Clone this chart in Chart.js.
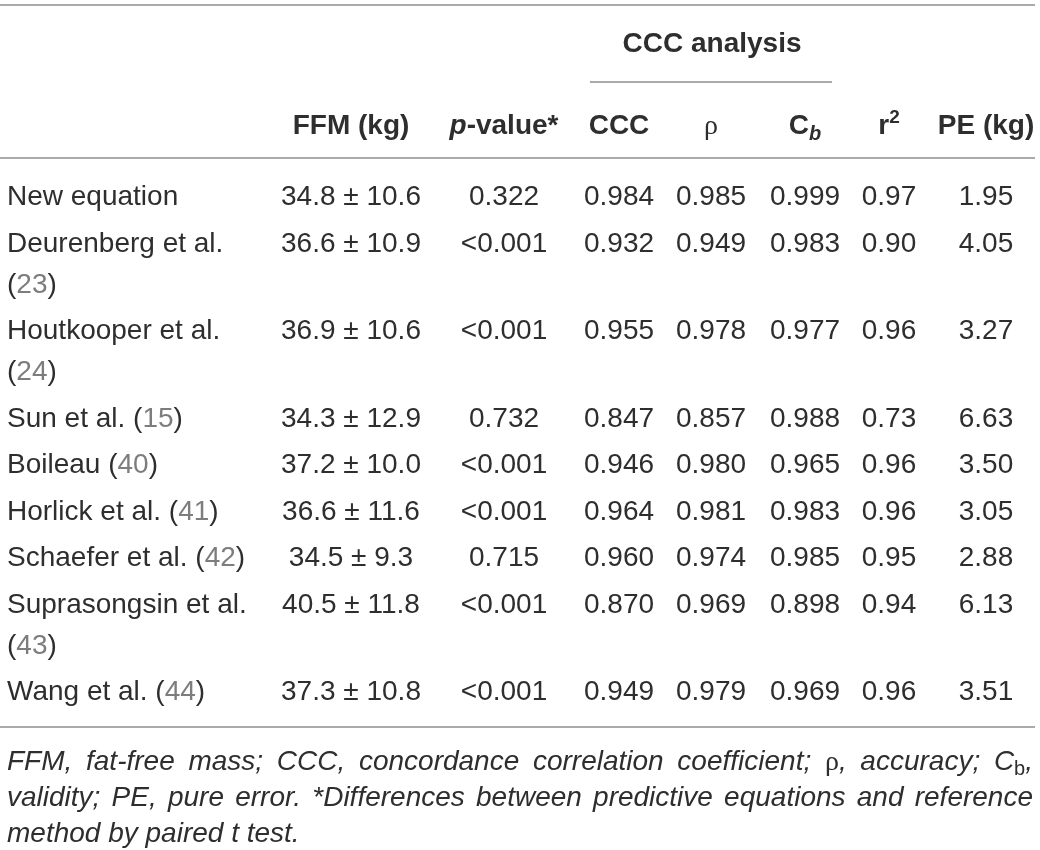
<!DOCTYPE html>
<html>
<head>
<meta charset="utf-8">
<script src="https://cdn.jsdelivr.net/npm/chart.js@4.4.1/dist/chart.umd.min.js"></script>
<style>
  html, body { margin: 0; padding: 0; background: #fff; }
  #wrap { width: 1040px; height: 850px; }
</style>
</head>
<body>
<div id="wrap"><canvas id="table" width="1040" height="850"></canvas></div>
<script>
// Table content
const methods = ['New equation', 'Deurenberg et al.', 'Houtkooper et al.', 'Sun et al.', 'Boileau',
                 'Horlick et al.', 'Schaefer et al.', 'Suprasongsin et al.', 'Wang et al.'];
const refs = ['', '23', '24', '15', '40', '41', '42', '43', '44'];
const ffm = ['34.8 ± 10.6', '36.6 ± 10.9', '36.9 ± 10.6', '34.3 ± 12.9', '37.2 ± 10.0',
             '36.6 ± 11.6', '34.5 ± 9.3', '40.5 ± 11.8', '37.3 ± 10.8'];
const pValues = ['0.322', '<0.001', '<0.001', '0.732', '<0.001', '<0.001', '0.715', '<0.001', '<0.001'];
const ccc = ['0.984', '0.932', '0.955', '0.847', '0.946', '0.964', '0.960', '0.870', '0.949'];
const rho = ['0.985', '0.949', '0.978', '0.857', '0.980', '0.981', '0.974', '0.969', '0.979'];
const cb = ['0.999', '0.983', '0.977', '0.988', '0.965', '0.983', '0.985', '0.898', '0.969'];
const r2 = ['0.97', '0.90', '0.96', '0.73', '0.96', '0.96', '0.95', '0.94', '0.96'];
const pe = ['1.95', '4.05', '3.27', '6.63', '3.50', '3.05', '2.88', '6.13', '3.51'];
const headers = ['', 'FFM (kg)', 'p-value*', 'CCC', 'ρ', 'C_b', 'r^2', 'PE (kg)'];
const groupHeader = 'CCC analysis';
const footnoteLines = [
    'FFM, fat-free mass; CCC, concordance correlation coefficient; ρ, accuracy; C_b,',
    'validity; PE, pure error. *Differences between predictive equations and reference',
    'method by paired t test.'
];

// Layout (table units = canvas px)
const COL_X = [7, 351, 504, 619, 711, 805, 889, 986];
const NAME_MAX_W = 250;
const RULE_L = 0, RULE_R = 1035;
const GROUP_L = 590, GROUP_R = 832;
const Y_TOP_RULE = 5, Y_GROUP = 52, Y_GROUP_RULE = 82, Y_HEAD = 134, Y_HEAD_RULE = 158;
const Y_FIRST_ROW = 205, ROW_PITCH = 46.5, WRAP_PITCH = 41;
const Y_BOTTOM_RULE = 727, Y_NOTE = 770, NOTE_PITCH = 36;
const NOTE_L = 7, NOTE_R = 1033;

const SANS = '"Liberation Sans", Arial, Helvetica, sans-serif';
const SERIF = '"Liberation Serif", "Times New Roman", serif';
const BODY = '28px ' + SANS;
const BOLD = 'bold 28px ' + SANS;
const NOTE = 'italic 28px ' + SANS;
const INK = '#2e2e2e';
const REF_INK = '#7d7d7d';
const RULE_INK = '#8e8e8e';

// Helpers for drawing mixed-font text
function runsWidth(ctx, runs) {
    let w = 0;
    runs.forEach(r => { ctx.font = r.font; w += ctx.measureText(r.t).width; });
    return w;
}

function drawRuns(ctx, runs, x, y, align) {
    const w = runsWidth(ctx, runs);
    let cx = align === 'center' ? x - w / 2 : x;
    runs.forEach(r => {
        ctx.font = r.font;
        ctx.fillStyle = r.color || INK;
        ctx.fillText(r.t, cx, y + (r.dy || 0));
        cx += ctx.measureText(r.t).width;
    });
}

function headerRuns(label) {
    if (label === 'ρ') return [{ t: 'ρ', font: '28px ' + SERIF }];
    if (label.includes('_')) {
        const [a, b] = label.split('_');
        return [{ t: a, font: BOLD }, { t: b, font: 'bold italic 20px ' + SANS, dy: 6 }];
    }
    if (label.includes('^')) {
        const [a, b] = label.split('^');
        return [{ t: a, font: BOLD }, { t: b, font: 'bold 19px ' + SANS, dy: -11 }];
    }
    if (label.startsWith('p-')) {
        return [{ t: 'p', font: 'bold italic 28px ' + SANS }, { t: label.slice(1), font: BOLD }];
    }
    return [{ t: label, font: BOLD }];
}

function noteWordRuns(word) {
    if (word.startsWith('ρ')) return [{ t: 'ρ', font: '28px ' + SERIF }, { t: word.slice(1), font: NOTE }];
    if (word.includes('_')) {
        const [a, rest] = word.split('_');
        return [{ t: a, font: NOTE }, { t: rest[0], font: '20px ' + SANS, dy: 5 }, { t: rest.slice(1), font: NOTE }];
    }
    return [{ t: word, font: NOTE }];
}

// Work out which method names wrap their reference onto a second line
const measureCtx = document.createElement('canvas').getContext('2d');
measureCtx.font = BODY;
const nameLines = methods.map((m, i) => {
    const nameRuns = [{ t: m, font: BODY }];
    if (!refs[i]) return [nameRuns];
    const refRuns = [{ t: '(', font: BODY }, { t: refs[i], font: BODY, color: REF_INK }, { t: ')', font: BODY }];
    const full = nameRuns.concat([{ t: ' ', font: BODY }], refRuns);
    return runsWidth(measureCtx, full) > NAME_MAX_W ? [nameRuns, refRuns] : [full];
});

// Baseline of the first line of every row
const rowY = [];
let yCursor = Y_FIRST_ROW;
nameLines.forEach(lines => {
    rowY.push(yCursor);
    yCursor += ROW_PITCH + (lines.length - 1) * WRAP_PITCH;
});

const columns = [methods, ffm, pValues, ccc, rho, cb, r2, pe];
const datasets = columns.map((col, c) => ({
    label: headers[c] || 'Method',
    data: col.map((v, i) => ({ x: COL_X[c], y: rowY[i] })),
    pointRadius: 0,
    pointHoverRadius: 0
}));

const tablePlugin = {
    id: 'tableText',
    afterDatasetsDraw(chart) {
        const ctx = chart.ctx;
        const xs = chart.scales.x, ys = chart.scales.y;
        const px = v => xs.getPixelForValue(v);
        const py = v => ys.getPixelForValue(v);
        ctx.save();
        ctx.textBaseline = 'alphabetic';

        // rules
        ctx.strokeStyle = RULE_INK;
        ctx.lineWidth = 1.6;
        [[RULE_L, RULE_R, Y_TOP_RULE], [GROUP_L, GROUP_R, Y_GROUP_RULE],
         [RULE_L, RULE_R, Y_HEAD_RULE], [RULE_L, RULE_R, Y_BOTTOM_RULE]].forEach(([l, r, y]) => {
            ctx.beginPath();
            ctx.moveTo(px(l), py(y));
            ctx.lineTo(px(r), py(y));
            ctx.stroke();
        });

        // headers
        drawRuns(ctx, [{ t: groupHeader, font: BOLD }], px((COL_X[3] + COL_X[5]) / 2), py(Y_GROUP), 'center');
        headers.forEach((h, c) => {
            if (h) drawRuns(ctx, headerRuns(h), px(COL_X[c]), py(Y_HEAD), 'center');
        });

        // body cells, placed at the points of each dataset
        chart.data.datasets.forEach((ds, c) => {
            chart.getDatasetMeta(c).data.forEach((pt, i) => {
                if (c === 0) {
                    nameLines[i].forEach((runs, k) => {
                        drawRuns(ctx, runs, pt.x, pt.y + k * WRAP_PITCH, 'left');
                    });
                } else {
                    drawRuns(ctx, [{ t: columns[c][i], font: BODY }], pt.x, pt.y, 'center');
                }
            });
        });

        // footnote, justified like the original
        footnoteLines.forEach((line, k) => {
            const words = line.split(' ').map(noteWordRuns);
            const widths = words.map(w => runsWidth(ctx, w));
            const total = widths.reduce((a, b) => a + b, 0);
            ctx.font = NOTE;
            const space = ctx.measureText(' ').width;
            const last = k === footnoteLines.length - 1;
            const gap = last ? space : (px(NOTE_R) - px(NOTE_L) - total) / (words.length - 1);
            let x = px(NOTE_L);
            const y = py(Y_NOTE + k * NOTE_PITCH);
            words.forEach((w, j) => {
                drawRuns(ctx, w, x, y, 'left');
                x += widths[j] + gap;
            });
        });
        ctx.restore();
    }
};

new Chart(document.getElementById('table'), {
    type: 'scatter',
    data: { datasets: datasets },
    options: {
        responsive: false,
        animation: false,
        events: [],
        layout: { padding: 0 },
        plugins: { legend: { display: false }, tooltip: { enabled: false } },
        scales: {
            x: { type: 'linear', min: 0, max: 1040, display: false },
            y: { type: 'linear', min: 0, max: 850, reverse: true, display: false }
        }
    },
    plugins: [tablePlugin]
});
</script>
</body>
</html>
